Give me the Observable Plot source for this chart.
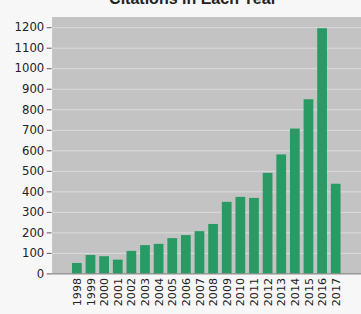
<!DOCTYPE html>
<html><head><meta charset="utf-8">
<script src="https://cdn.jsdelivr.net/npm/d3@7"></script>
<script src="https://cdn.jsdelivr.net/npm/@observablehq/plot@0.6"></script>
<style>
html,body{margin:0;padding:0;background:#f7f7f7;overflow:hidden;width:361px;height:314px;}
#wrap{position:relative;width:361px;height:314px;}
#title{position:absolute;left:0;width:386px;text-align:center;top:-10px;font:bold 16px "Liberation Sans",Arial,sans-serif;color:#222;line-height:18px;white-space:nowrap;}
#chart{position:absolute;left:0;top:0;}
</style></head>
<body><div id="wrap"><div id="title">Citations in Each Year</div><div id="chart"></div></div>
<script>
const title = "Citations in Each Year";
const years = ["1998","1999","2000","2001","2002","2003","2004","2005","2006","2007","2008","2009","2010","2011","2012","2013","2014","2015","2016","2017"];
const citations = [51,90,84,67,110,138,144,172,187,206,241,349,373,368,490,580,706,849,1195,437];
const yTicks = [0,100,200,300,400,500,600,700,800,900,1000,1100,1200];

document.getElementById("title").textContent = title;
const data = years.map((y,i)=>({year:y, value:citations[i]}));

const chart = Plot.plot({
  width: 371, height: 314,
  marginLeft: 53, marginRight: 0, marginTop: 17, marginBottom: 33,
  style: {background: "transparent", fontFamily: "'DejaVu Sans', sans-serif", fontSize: "11px", color: "#222"},
  x: {domain: years, paddingInner: 0.31, paddingOuter: 1.1, label: null},
  y: {domain: [0, 1252], label: null, ticks: yTicks},
  marks: [
    Plot.frame({fill: "#c3c3c3", stroke: null}),
    Plot.gridY(yTicks.slice(1), {stroke: "#dcdcdc", strokeOpacity: 1, strokeWidth: 1}),
    Plot.barY(data, {x: "year", y: "value", fill: "#2a9a64"}),
    Plot.axisY({ticks: yTicks, tickFormat: "d", tickSize: 5, tickPadding: 3, stroke: "#555", fontSize: 12}),
    Plot.ruleX([0], {frameAnchor: "left", stroke: "#777"}),
    Plot.ruleY([0], {stroke: "#777"}),
    Plot.axisX({tickSize: 0, tickRotate: -90, tickPadding: 4, fontSize: 11.5})
  ]
});
document.getElementById("chart").appendChild(chart);
</script></body></html>
